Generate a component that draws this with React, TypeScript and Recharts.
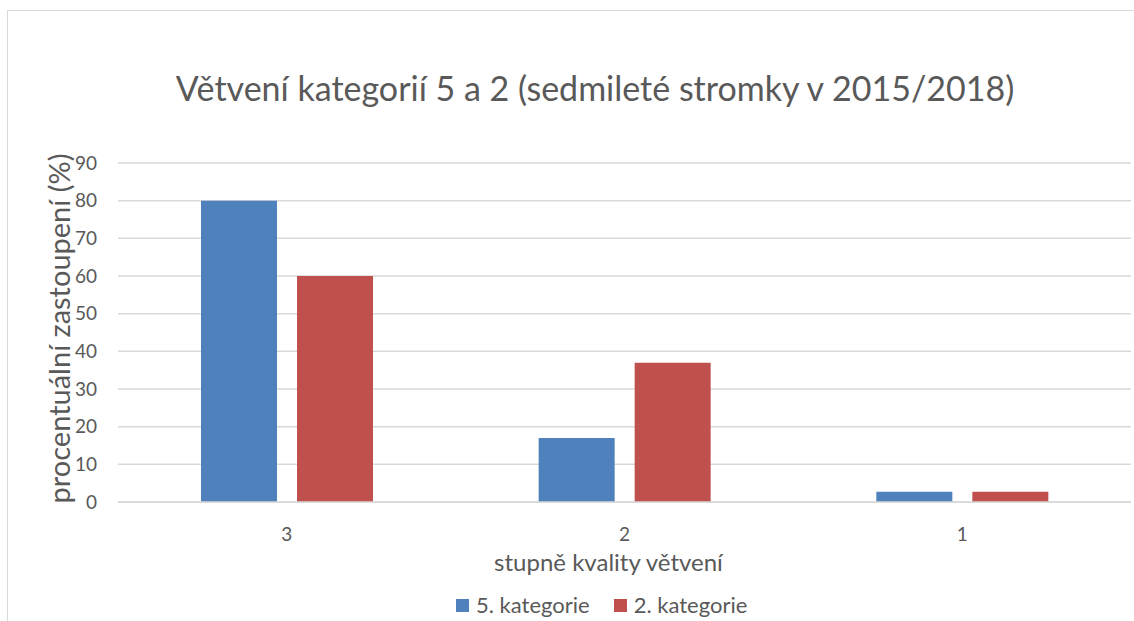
import React from "react";
import {
  BarChart,
  Bar,
  XAxis,
  YAxis,
  CartesianGrid,
  Legend,
  Label,
} from "recharts";

const stupne = ["3", "2", "1"];
const kategorie5 = [80, 17, 2.7];
const kategorie2 = [60, 37, 2.7];
const yTicks = [0, 10, 20, 30, 40, 50, 60, 70, 80, 90];

const BLUE = "#4F81BD";
const RED = "#C0504D";
const TEXT = "#595959";
const FONT = "Lato, 'Open Sans', sans-serif";

const data = stupne.map((s, i) => ({
  stupen: s,
  k5: kategorie5[i],
  k2: kategorie2[i],
}));

const renderLegend = () => (
  <div
    style={{
      display: "flex",
      alignItems: "center",
      fontFamily: FONT,
      fontSize: 22,
      color: TEXT,
      lineHeight: "24px",
    }}
  >
    <span style={{ width: 13, height: 13, background: BLUE, display: "inline-block", marginRight: 7 }} />
    <span style={{ marginRight: 24 }}>5. kategorie</span>
    <span style={{ width: 13, height: 13, background: RED, display: "inline-block", marginRight: 7 }} />
    <span>2. kategorie</span>
  </div>
);

export default function App() {
  return (
    <div style={{ position: "absolute", left: 0, top: 0, width: 1134, height: 621, overflow: "hidden", background: "#fff" }}>
      <div
        style={{
          position: "absolute",
          left: 7,
          top: 10,
          width: 1200,
          height: 700,
          border: "1px solid #d9d9d9",
        }}
      />
      <div
        style={{
          position: "absolute",
          left: 0,
          width: 1190,
          top: 68,
          textAlign: "center",
          fontFamily: FONT,
          fontSize: 34,
          lineHeight: "40px",
          color: TEXT,
        }}
      >
        Větvení kategorií 5 a 2 (sedmileté stromky v 2015/2018)
      </div>
      <div style={{ position: "absolute", left: 0, top: 0 }}>
        <BarChart
          width={1134}
          height={621}
          data={data}
          margin={{ top: 163, right: 3, bottom: 65, left: 0 }}
          barGap={20}
          barSize={76}
        >
          <CartesianGrid vertical={false} stroke="#d9d9d9" strokeWidth={1.5} />
          <XAxis
            dataKey="stupen"
            axisLine={{ stroke: "#d9d9d9", strokeWidth: 1.5 }}
            tickLine={false}
            tickMargin={20}
            tick={{ fill: TEXT, fontSize: 19, fontFamily: FONT }}
          >
            <Label
              value="stupně kvality větvení"
              position="bottom"
              offset={22}
              dx={-16}
              style={{ fill: TEXT, fontSize: 24, fontFamily: FONT }}
            />
          </XAxis>
          <YAxis
            width={118}
            domain={[0, 90]}
            ticks={yTicks}
            axisLine={false}
            tickLine={false}
            tickMargin={15}
            tick={{ fill: TEXT, fontSize: 19, fontFamily: FONT }}
          >
            <Label
              value="procentuální zastoupení (%)"
              angle={-90}
              position="insideLeft"
              offset={60}
              dy={-4}
              style={{ fill: TEXT, fontSize: 29, fontFamily: FONT, textAnchor: "middle" }}
            />
          </YAxis>
          <Legend
            verticalAlign="bottom"
            content={renderLegend}
            wrapperStyle={{ left: 456, bottom: 4, width: "auto" }}
          />
          <Bar dataKey="k5" name="5. kategorie" fill={BLUE} isAnimationActive={false} />
          <Bar dataKey="k2" name="2. kategorie" fill={RED} isAnimationActive={false} />
        </BarChart>
      </div>
    </div>
  );
}
